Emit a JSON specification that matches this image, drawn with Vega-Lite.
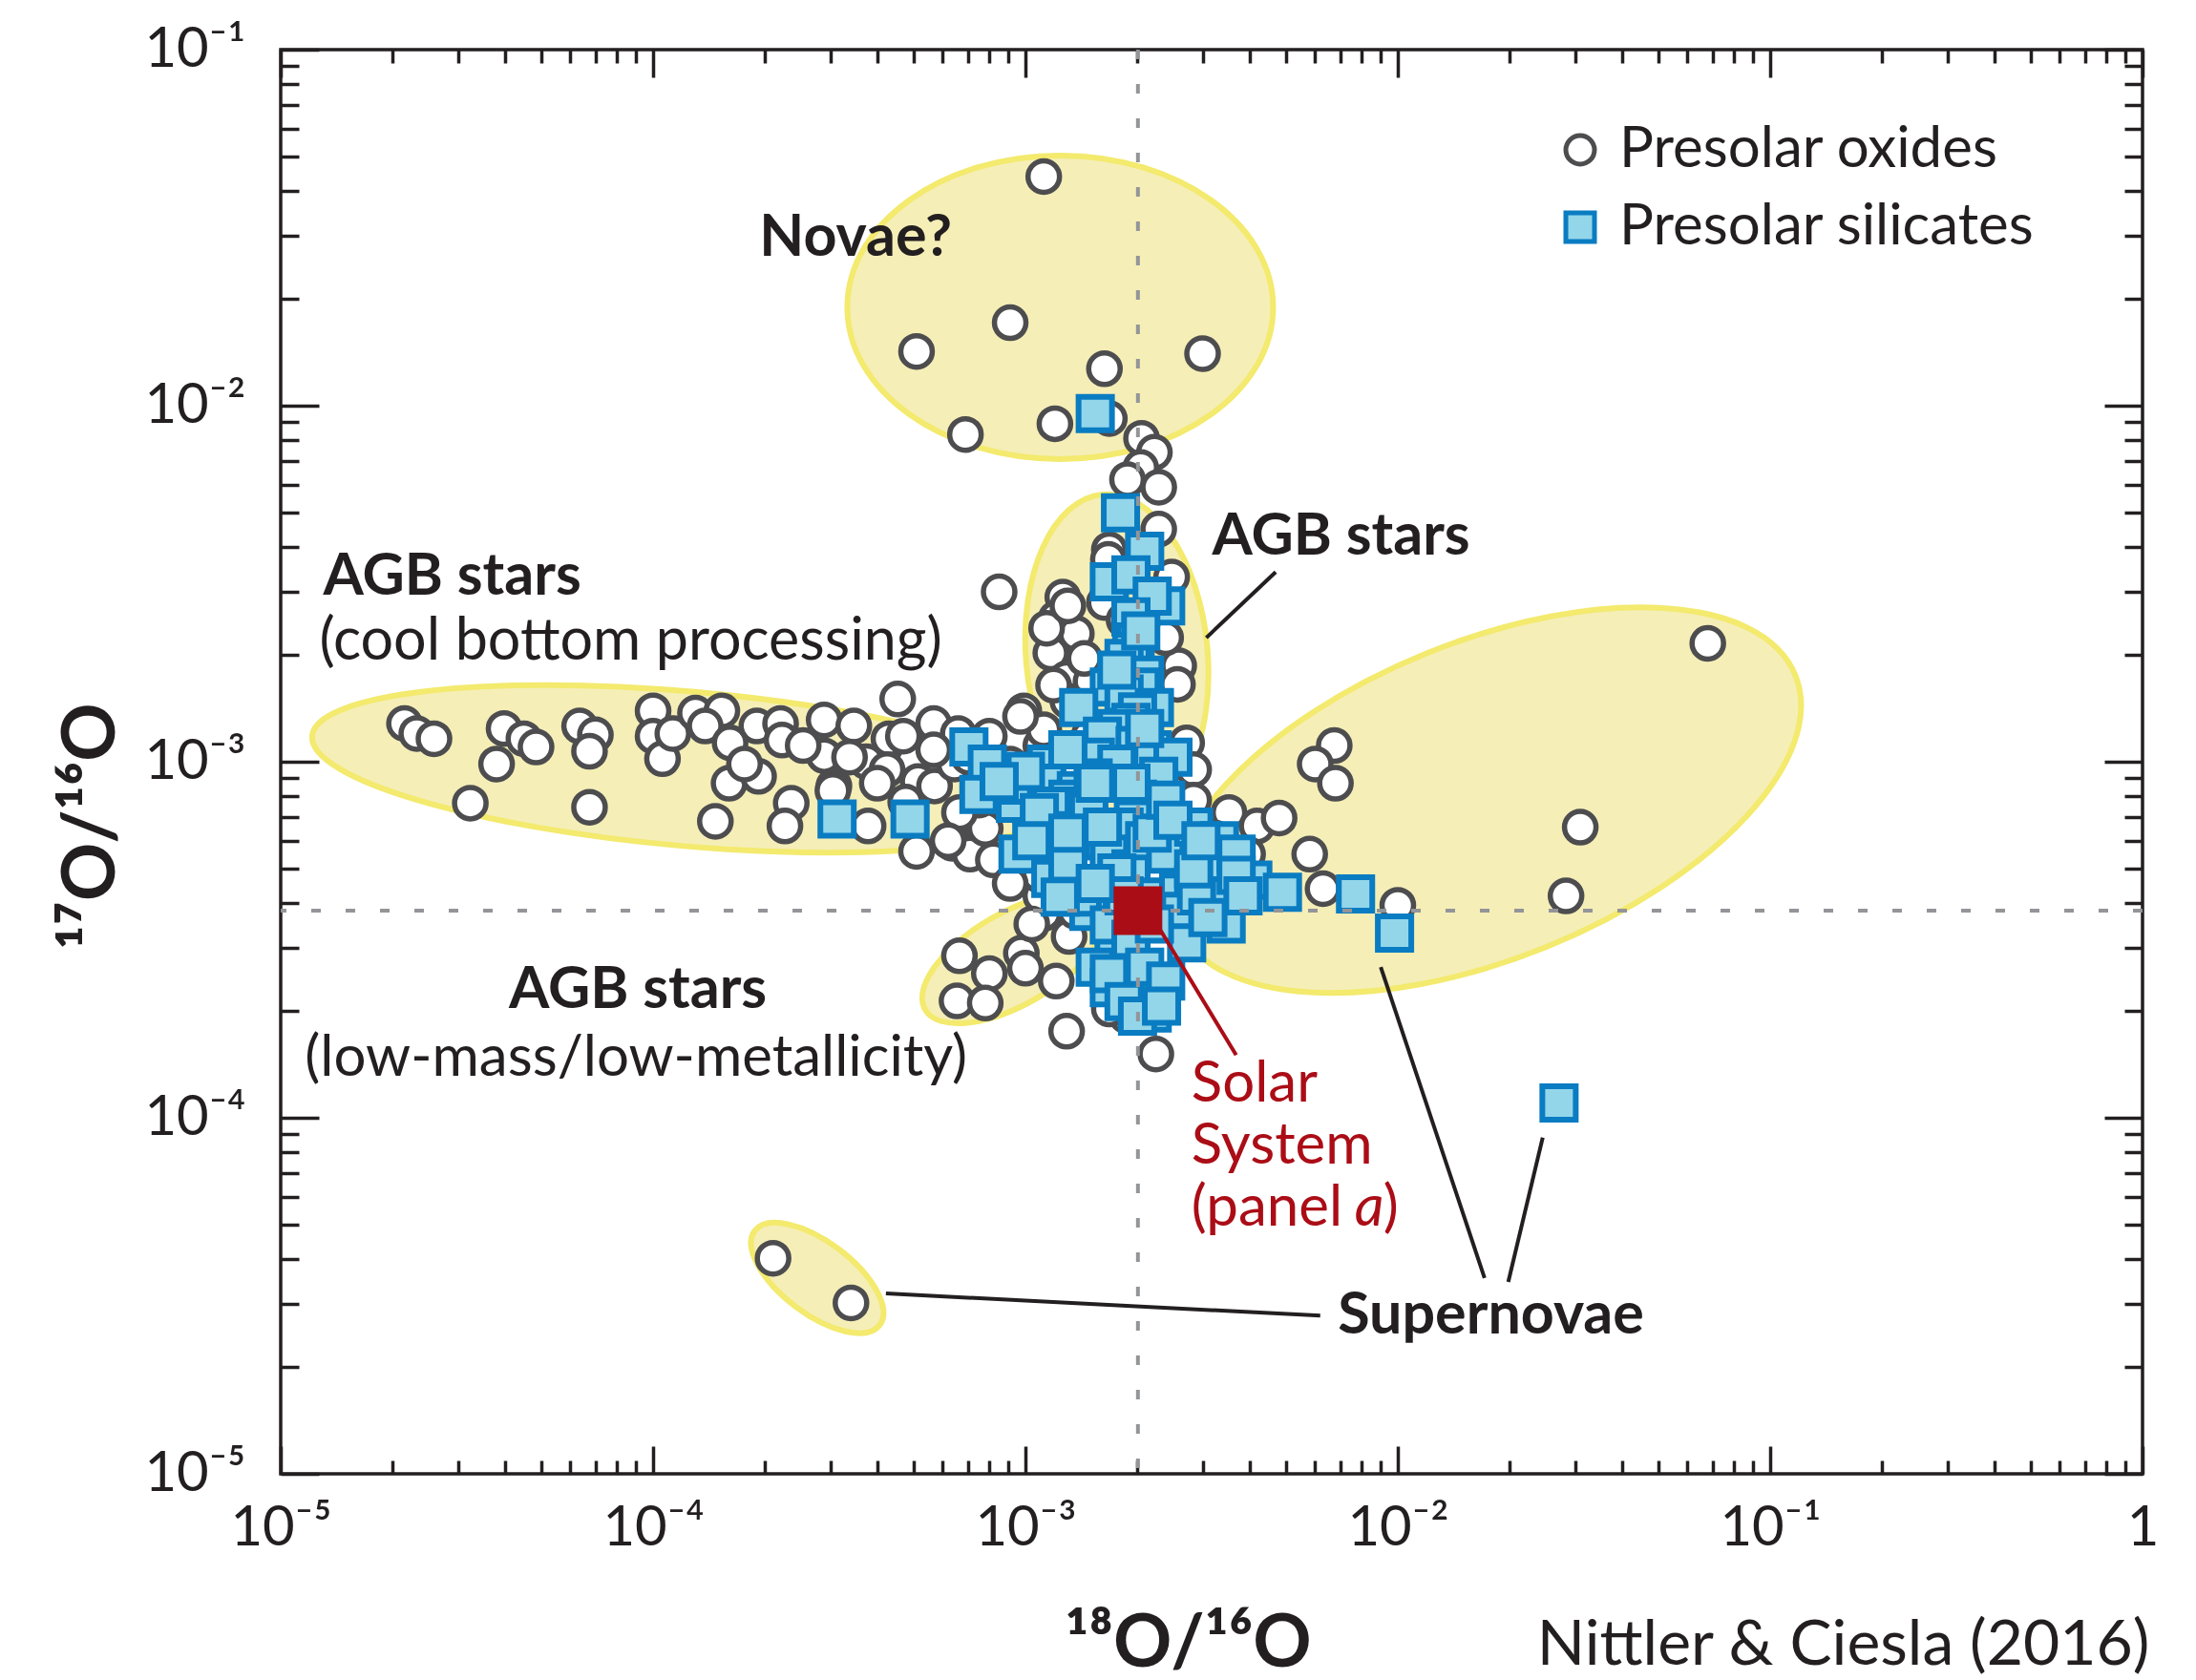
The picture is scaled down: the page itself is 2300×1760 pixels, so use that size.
{
"$schema": "https://vega.github.io/schema/vega-lite/v6.json",
"width": 1950, "height": 1492,
"autosize": {"type": "none"},
"padding": {"left": 294, "top": 52, "right": 56, "bottom": 216},
"background": "white",
"config": {
  "view": {"stroke": "#231f20", "strokeWidth": 3.5},
  "font": "Lato",
  "legend": {"labelFont": "Lato", "labelFontSize": 60, "labelColor": "#231f20", "symbolSize": 900, "symbolStrokeWidth": 5, "labelOffset": 11, "rowPadding": 21, "padding": 0, "labelLimit": 800, "symbolOpacity": 1}
},
"datasets": {
  "points": [
    {"type":"Presolar oxides","r18":1.12e-3,"r17":4.4e-2},
    {"type":"Presolar oxides","r18":9.1e-4,"r17":1.71e-2},
    {"type":"Presolar oxides","r18":5.1e-4,"r17":1.42e-2},
    {"type":"Presolar oxides","r18":1.63e-3,"r17":1.27e-2},
    {"type":"Presolar oxides","r18":2.99e-3,"r17":1.40e-2},
    {"type":"Presolar oxides","r18":6.9e-4,"r17":8.3e-3},
    {"type":"Presolar oxides","r18":1.2e-3,"r17":8.9e-3},
    {"type":"Presolar oxides","r18":1.68e-3,"r17":9.2e-3},
    {"type":"Presolar oxides","r18":2.05e-3,"r17":8.1e-3},
    {"type":"Presolar oxides","r18":2.22e-3,"r17":7.4e-3},
    {"type":"Presolar oxides","r18":2.04e-3,"r17":6.7e-3},
    {"type":"Presolar oxides","r18":1.88e-3,"r17":6.2e-3},
    {"type":"Presolar oxides","r18":2.28e-3,"r17":5.9e-3},
    {"type":"Presolar oxides","r18":2.28e-3,"r17":4.5e-3},
    {"type":"Presolar oxides","r18":1.68e-3,"r17":3.94e-3},
    {"type":"Presolar oxides","r18":1.67e-3,"r17":3.7e-3},
    {"type":"Presolar oxides","r18":8.5e-4,"r17":3.0e-3},
    {"type":"Presolar oxides","r18":1.26e-3,"r17":2.9e-3},
    {"type":"Presolar oxides","r18":1.21e-3,"r17":2.53e-3},
    {"type":"Presolar oxides","r18":1.37e-3,"r17":2.29e-3},
    {"type":"Presolar oxides","r18":1.17e-3,"r17":2.02e-3},
    {"type":"Presolar oxides","r18":1.29e-3,"r17":1.71e-3},
    {"type":"Presolar oxides","r18":1.5e-3,"r17":1.68e-3},
    {"type":"Presolar oxides","r18":9.9e-4,"r17":1.39e-3},
    {"type":"Presolar oxides","r18":1.1e-3,"r17":1.11e-3},
    {"type":"Presolar oxides","r18":2.58e-3,"r17":1.86e-3},
    {"type":"Presolar oxides","r18":2.38e-3,"r17":2.23e-3},
    {"type":"Presolar oxides","r18":2.47e-3,"r17":3.3e-3},
    {"type":"Presolar oxides","r18":1.63e-3,"r17":2.8e-3},
    {"type":"Presolar oxides","r18":1.14e-3,"r17":2.37e-3},
    {"type":"Presolar oxides","r18":1.3e-3,"r17":2.74e-3},
    {"type":"Presolar oxides","r18":1.84e-3,"r17":2.5e-3},
    {"type":"Presolar oxides","r18":2.56e-3,"r17":1.65e-3},
    {"type":"Presolar oxides","r18":1.3e-3,"r17":1.48e-3},
    {"type":"Presolar oxides","r18":1.12e-3,"r17":1.23e-3},
    {"type":"Presolar oxides","r18":1.44e-3,"r17":1.95e-3},
    {"type":"Presolar oxides","r18":2.15e-5,"r17":1.28e-3},
    {"type":"Presolar oxides","r18":2.32e-5,"r17":1.2e-3},
    {"type":"Presolar oxides","r18":2.58e-5,"r17":1.16e-3},
    {"type":"Presolar oxides","r18":3.98e-5,"r17":1.24e-3},
    {"type":"Presolar oxides","r18":4.5e-5,"r17":1.16e-3},
    {"type":"Presolar oxides","r18":4.85e-5,"r17":1.1e-3},
    {"type":"Presolar oxides","r18":3.8e-5,"r17":9.85e-4},
    {"type":"Presolar oxides","r18":3.23e-5,"r17":7.65e-4},
    {"type":"Presolar oxides","r18":6.35e-5,"r17":1.26e-3},
    {"type":"Presolar oxides","r18":7.0e-5,"r17":1.19e-3},
    {"type":"Presolar oxides","r18":6.75e-5,"r17":1.07e-3},
    {"type":"Presolar oxides","r18":6.75e-5,"r17":7.45e-4},
    {"type":"Presolar oxides","r18":1.0e-4,"r17":1.39e-3},
    {"type":"Presolar oxides","r18":1.0e-4,"r17":1.18e-3},
    {"type":"Presolar oxides","r18":1.06e-4,"r17":1.02e-3},
    {"type":"Presolar oxides","r18":1.13e-4,"r17":1.2e-3},
    {"type":"Presolar oxides","r18":1.3e-4,"r17":1.37e-3},
    {"type":"Presolar oxides","r18":1.53e-4,"r17":1.39e-3},
    {"type":"Presolar oxides","r18":1.38e-4,"r17":1.26e-3},
    {"type":"Presolar oxides","r18":1.61e-4,"r17":1.13e-3},
    {"type":"Presolar oxides","r18":1.9e-4,"r17":1.26e-3},
    {"type":"Presolar oxides","r18":1.6e-4,"r17":8.7e-4},
    {"type":"Presolar oxides","r18":1.92e-4,"r17":9.1e-4},
    {"type":"Presolar oxides","r18":1.47e-4,"r17":6.8e-4},
    {"type":"Presolar oxides","r18":2.2e-4,"r17":1.28e-3},
    {"type":"Presolar oxides","r18":2.35e-4,"r17":7.65e-4},
    {"type":"Presolar oxides","r18":2.26e-4,"r17":6.6e-4},
    {"type":"Presolar oxides","r18":2.88e-4,"r17":1.31e-3},
    {"type":"Presolar oxides","r18":3.46e-4,"r17":1.26e-3},
    {"type":"Presolar oxides","r18":2.88e-4,"r17":1.04e-3},
    {"type":"Presolar oxides","r18":3.74e-4,"r17":1.0e-3},
    {"type":"Presolar oxides","r18":4.54e-4,"r17":1.5e-3},
    {"type":"Presolar oxides","r18":4.3e-4,"r17":1.16e-3},
    {"type":"Presolar oxides","r18":4.98e-4,"r17":1.0e-3},
    {"type":"Presolar oxides","r18":5.67e-4,"r17":1.28e-3},
    {"type":"Presolar oxides","r18":3.06e-4,"r17":8.55e-4},
    {"type":"Presolar oxides","r18":3.78e-4,"r17":6.6e-4},
    {"type":"Presolar oxides","r18":5.1e-4,"r17":5.6e-4},
    {"type":"Presolar oxides","r18":6.35e-4,"r17":5.9e-4},
    {"type":"Presolar oxides","r18":7.55e-4,"r17":6.6e-4},
    {"type":"Presolar oxides","r18":9.7e-4,"r17":1.34e-3},
    {"type":"Presolar oxides","r18":2.22e-4,"r17":1.15e-3},
    {"type":"Presolar oxides","r18":3.04e-4,"r17":8.3e-4},
    {"type":"Presolar oxides","r18":4.7e-4,"r17":1.18e-3},
    {"type":"Presolar oxides","r18":4.25e-4,"r17":9.5e-4},
    {"type":"Presolar oxides","r18":5.15e-4,"r17":8.8e-4},
    {"type":"Presolar oxides","r18":5.7e-4,"r17":8.55e-4},
    {"type":"Presolar oxides","r18":6.6e-4,"r17":1.2e-3},
    {"type":"Presolar oxides","r18":6.45e-4,"r17":9.85e-4},
    {"type":"Presolar oxides","r18":7.1e-4,"r17":5.5e-4},
    {"type":"Presolar oxides","r18":7.8e-4,"r17":6.5e-4},
    {"type":"Presolar oxides","r18":8.2e-4,"r17":5.3e-4},
    {"type":"Presolar oxides","r18":1.19e-3,"r17":1.64e-3},
    {"type":"Presolar oxides","r18":8.75e-4,"r17":8.7e-4},
    {"type":"Presolar oxides","r18":1.0e-3,"r17":7.3e-4},
    {"type":"Presolar oxides","r18":9.1e-4,"r17":9.85e-4},
    {"type":"Presolar oxides","r18":7.5e-4,"r17":7.8e-4},
    {"type":"Presolar oxides","r18":6.65e-4,"r17":7.2e-4},
    {"type":"Presolar oxides","r18":6.65e-4,"r17":2.85e-4},
    {"type":"Presolar oxides","r18":8.0e-4,"r17":2.54e-4},
    {"type":"Presolar oxides","r18":6.55e-4,"r17":2.13e-4},
    {"type":"Presolar oxides","r18":7.8e-4,"r17":2.1e-4},
    {"type":"Presolar oxides","r18":9.75e-4,"r17":2.9e-4},
    {"type":"Presolar oxides","r18":1.0e-3,"r17":2.63e-4},
    {"type":"Presolar oxides","r18":1.21e-3,"r17":2.42e-4},
    {"type":"Presolar oxides","r18":1.31e-3,"r17":3.23e-4},
    {"type":"Presolar oxides","r18":1.12e-3,"r17":3.75e-4},
    {"type":"Presolar oxides","r18":1.1e-3,"r17":4.2e-4},
    {"type":"Presolar oxides","r18":1.29e-3,"r17":1.75e-4},
    {"type":"Presolar oxides","r18":2.24e-3,"r17":1.51e-4},
    {"type":"Presolar oxides","r18":1.87e-3,"r17":1.93e-4},
    {"type":"Presolar oxides","r18":6.2e-4,"r17":6.0e-4},
    {"type":"Presolar oxides","r18":1.04e-3,"r17":3.5e-4},
    {"type":"Presolar oxides","r18":1.36e-3,"r17":3.8e-4},
    {"type":"Presolar oxides","r18":1.09e-3,"r17":4.8e-4},
    {"type":"Presolar oxides","r18":9.1e-4,"r17":4.55e-4},
    {"type":"Presolar oxides","r18":1.19e-3,"r17":5.45e-4},
    {"type":"Presolar oxides","r18":1.68e-3,"r17":2.02e-4},
    {"type":"Presolar oxides","r18":2.79e-3,"r17":6.8e-4},
    {"type":"Presolar oxides","r18":3.52e-3,"r17":7.2e-4},
    {"type":"Presolar oxides","r18":4.19e-3,"r17":6.6e-4},
    {"type":"Presolar oxides","r18":4.8e-3,"r17":6.95e-4},
    {"type":"Presolar oxides","r18":3.95e-3,"r17":5.5e-4},
    {"type":"Presolar oxides","r18":5.8e-3,"r17":5.5e-4},
    {"type":"Presolar oxides","r18":6.3e-3,"r17":4.4e-4},
    {"type":"Presolar oxides","r18":1.0e-2,"r17":3.95e-4},
    {"type":"Presolar oxides","r18":6.75e-3,"r17":1.11e-3},
    {"type":"Presolar oxides","r18":6.0e-3,"r17":9.85e-4},
    {"type":"Presolar oxides","r18":6.8e-3,"r17":8.7e-4},
    {"type":"Presolar oxides","r18":3.09e-2,"r17":6.55e-4},
    {"type":"Presolar oxides","r18":2.83e-2,"r17":4.2e-4},
    {"type":"Presolar oxides","r18":6.8e-2,"r17":2.15e-3},
    {"type":"Presolar oxides","r18":3.23e-3,"r17":6.1e-4},
    {"type":"Presolar oxides","r18":3.09e-3,"r17":5.75e-4},
    {"type":"Presolar oxides","r18":2.1e-4,"r17":4.03e-5},
    {"type":"Presolar oxides","r18":3.4e-4,"r17":3.02e-5},
    {"type":"Presolar oxides","r18":1.68e-3,"r17":8.7e-4},
    {"type":"Presolar oxides","r18":2.71e-3,"r17":1.13e-3},
    {"type":"Presolar oxides","r18":2.83e-3,"r17":9.5e-4},
    {"type":"Presolar oxides","r18":2.19e-3,"r17":1.48e-3},
    {"type":"Presolar oxides","r18":1.48e-3,"r17":1.18e-3},
    {"type":"Presolar oxides","r18":2.83e-3,"r17":7.8e-4},
    {"type":"Presolar oxides","r18":1.3e-3,"r17":9.85e-4},
    {"type":"Presolar oxides","r18":2.53e-4,"r17":1.11e-3},
    {"type":"Presolar oxides","r18":3.37e-4,"r17":1.03e-3},
    {"type":"Presolar oxides","r18":4.0e-4,"r17":8.7e-4},
    {"type":"Presolar oxides","r18":4.77e-4,"r17":7.7e-4},
    {"type":"Presolar oxides","r18":5.67e-4,"r17":1.08e-3},
    {"type":"Presolar oxides","r18":7.05e-4,"r17":1.03e-3},
    {"type":"Presolar oxides","r18":8.0e-4,"r17":1.18e-3},
    {"type":"Presolar oxides","r18":8.4e-4,"r17":9.0e-4},
    {"type":"Presolar oxides","r18":1.76e-4,"r17":9.85e-4},
    {"type":"Presolar silicates","r18":1.54e-3,"r17":9.5e-3},
    {"type":"Presolar silicates","r18":1.8e-3,"r17":5.0e-3},
    {"type":"Presolar silicates","r18":2.09e-3,"r17":3.9e-3},
    {"type":"Presolar silicates","r18":1.68e-3,"r17":3.2e-3},
    {"type":"Presolar silicates","r18":2.38e-3,"r17":2.74e-3},
    {"type":"Presolar silicates","r18":1.92e-3,"r17":3.35e-3},
    {"type":"Presolar silicates","r18":2.19e-3,"r17":2.92e-3},
    {"type":"Presolar silicates","r18":1.92e-3,"r17":2.55e-3},
    {"type":"Presolar silicates","r18":1.97e-3,"r17":2.17e-3},
    {"type":"Presolar silicates","r18":1.93e-3,"r17":2.04e-3},
    {"type":"Presolar silicates","r18":1.84e-3,"r17":1.95e-3},
    {"type":"Presolar silicates","r18":2.09e-3,"r17":1.75e-3},
    {"type":"Presolar silicates","r18":2.04e-3,"r17":1.62e-3},
    {"type":"Presolar silicates","r18":1.68e-3,"r17":1.62e-3},
    {"type":"Presolar silicates","r18":1.84e-3,"r17":1.55e-3},
    {"type":"Presolar silicates","r18":1.39e-3,"r17":1.42e-3},
    {"type":"Presolar silicates","r18":2.22e-3,"r17":1.42e-3},
    {"type":"Presolar silicates","r18":2.0e-3,"r17":1.38e-3},
    {"type":"Presolar silicates","r18":1.92e-3,"r17":1.29e-3},
    {"type":"Presolar silicates","r18":1.76e-3,"r17":1.24e-3},
    {"type":"Presolar silicates","r18":1.61e-3,"r17":1.18e-3},
    {"type":"Presolar silicates","r18":1.97e-3,"r17":1.11e-3},
    {"type":"Presolar silicates","r18":2.19e-3,"r17":1.08e-3},
    {"type":"Presolar silicates","r18":2.49e-3,"r17":1.03e-3},
    {"type":"Presolar silicates","r18":1.54e-3,"r17":1.03e-3},
    {"type":"Presolar silicates","r18":2.28e-3,"r17":9.1e-4},
    {"type":"Presolar silicates","r18":7.05e-4,"r17":1.1e-3},
    {"type":"Presolar silicates","r18":7.9e-4,"r17":9.85e-4},
    {"type":"Presolar silicates","r18":7.5e-4,"r17":8.1e-4},
    {"type":"Presolar silicates","r18":9.4e-4,"r17":7.65e-4},
    {"type":"Presolar silicates","r18":9.55e-4,"r17":5.5e-4},
    {"type":"Presolar silicates","r18":9.55e-4,"r17":8.6e-4},
    {"type":"Presolar silicates","r18":1.14e-3,"r17":9.85e-4},
    {"type":"Presolar silicates","r18":1.14e-3,"r17":8.7e-4},
    {"type":"Presolar silicates","r18":1.37e-3,"r17":8.3e-4},
    {"type":"Presolar silicates","r18":1.3e-3,"r17":7.85e-4},
    {"type":"Presolar silicates","r18":1.48e-3,"r17":7.5e-4},
    {"type":"Presolar silicates","r18":1.17e-3,"r17":7.5e-4},
    {"type":"Presolar silicates","r18":1.76e-3,"r17":9.85e-4},
    {"type":"Presolar silicates","r18":1.52e-3,"r17":9.0e-4},
    {"type":"Presolar silicates","r18":2.0e-3,"r17":7.85e-4},
    {"type":"Presolar silicates","r18":1.17e-3,"r17":6.4e-4},
    {"type":"Presolar silicates","r18":1.44e-3,"r17":6.0e-4},
    {"type":"Presolar silicates","r18":1.32e-3,"r17":6.0e-4},
    {"type":"Presolar silicates","r18":1.17e-3,"r17":4.7e-4},
    {"type":"Presolar silicates","r18":1.48e-3,"r17":3.8e-4},
    {"type":"Presolar silicates","r18":1.73e-3,"r17":3.05e-4},
    {"type":"Presolar silicates","r18":1.95e-3,"r17":6.9e-4},
    {"type":"Presolar silicates","r18":1.84e-3,"r17":6.55e-4},
    {"type":"Presolar silicates","r18":1.68e-3,"r17":5.5e-4},
    {"type":"Presolar silicates","r18":1.92e-3,"r17":5.0e-4},
    {"type":"Presolar silicates","r18":2.09e-3,"r17":6.0e-4},
    {"type":"Presolar silicates","r18":1.76e-3,"r17":4.87e-4},
    {"type":"Presolar silicates","r18":1.42e-3,"r17":4.17e-4},
    {"type":"Presolar silicates","r18":1.24e-3,"r17":4.17e-4},
    {"type":"Presolar silicates","r18":2.15e-3,"r17":4.17e-4},
    {"type":"Presolar silicates","r18":2.04e-3,"r17":3.64e-4},
    {"type":"Presolar silicates","r18":1.68e-3,"r17":3.48e-4},
    {"type":"Presolar silicates","r18":1.92e-3,"r17":3.17e-4},
    {"type":"Presolar silicates","r18":1.54e-3,"r17":2.65e-4},
    {"type":"Presolar silicates","r18":1.68e-3,"r17":2.32e-4},
    {"type":"Presolar silicates","r18":1.95e-3,"r17":2.34e-4},
    {"type":"Presolar silicates","r18":2.19e-3,"r17":1.97e-4},
    {"type":"Presolar silicates","r18":2.58e-3,"r17":5.9e-4},
    {"type":"Presolar silicates","r18":2.38e-3,"r17":5.5e-4},
    {"type":"Presolar silicates","r18":2.83e-3,"r17":6.55e-4},
    {"type":"Presolar silicates","r18":2.58e-3,"r17":4.3e-4},
    {"type":"Presolar silicates","r18":2.83e-3,"r17":4.5e-4},
    {"type":"Presolar silicates","r18":2.6e-3,"r17":3.8e-4},
    {"type":"Presolar silicates","r18":2.71e-3,"r17":3.1e-4},
    {"type":"Presolar silicates","r18":3.32e-3,"r17":6.0e-4},
    {"type":"Presolar silicates","r18":3.23e-3,"r17":5.0e-4},
    {"type":"Presolar silicates","r18":3.68e-3,"r17":5.5e-4},
    {"type":"Presolar silicates","r18":4.08e-3,"r17":4.65e-4},
    {"type":"Presolar silicates","r18":3.37e-3,"r17":4.2e-4},
    {"type":"Presolar silicates","r18":2.88e-3,"r17":4.2e-4},
    {"type":"Presolar silicates","r18":3.46e-3,"r17":3.5e-4},
    {"type":"Presolar silicates","r18":4.9e-3,"r17":4.3e-4},
    {"type":"Presolar silicates","r18":7.7e-3,"r17":4.25e-4},
    {"type":"Presolar silicates","r18":9.8e-3,"r17":3.3e-4},
    {"type":"Presolar silicates","r18":2.71e-2,"r17":1.1e-4},
    {"type":"Presolar silicates","r18":3.12e-4,"r17":6.9e-4},
    {"type":"Presolar silicates","r18":4.9e-4,"r17":6.9e-4},
    {"type":"Presolar silicates","r18":3.68e-3,"r17":4.8e-4},
    {"type":"Presolar silicates","r18":3.84e-3,"r17":4.2e-4},
    {"type":"Presolar silicates","r18":1.3e-3,"r17":1.08e-3},
    {"type":"Presolar silicates","r18":1.0e-3,"r17":9.4e-4},
    {"type":"Presolar silicates","r18":1.09e-3,"r17":7.2e-4},
    {"type":"Presolar silicates","r18":1.3e-3,"r17":5.2e-4},
    {"type":"Presolar silicates","r18":1.61e-3,"r17":6.55e-4},
    {"type":"Presolar silicates","r18":2.19e-3,"r17":6.3e-4},
    {"type":"Presolar silicates","r18":2.38e-3,"r17":7.8e-4},
    {"type":"Presolar silicates","r18":2.83e-3,"r17":5.0e-4},
    {"type":"Presolar silicates","r18":3.09e-3,"r17":3.65e-4},
    {"type":"Presolar silicates","r18":1.68e-3,"r17":2.54e-4},
    {"type":"Presolar silicates","r18":2.09e-3,"r17":2.65e-4},
    {"type":"Presolar silicates","r18":1.84e-3,"r17":2.12e-4},
    {"type":"Presolar silicates","r18":2.38e-3,"r17":2.42e-4},
    {"type":"Presolar silicates","r18":2.22e-3,"r17":3.5e-4},
    {"type":"Presolar silicates","r18":1.54e-3,"r17":8.7e-4},
    {"type":"Presolar silicates","r18":1.92e-3,"r17":8.7e-4},
    {"type":"Presolar silicates","r18":2.04e-3,"r17":2.33e-3},
    {"type":"Presolar silicates","r18":1.76e-3,"r17":1.81e-3},
    {"type":"Presolar silicates","r18":2.09e-3,"r17":1.24e-3},
    {"type":"Presolar silicates","r18":1.3e-3,"r17":6.3e-4},
    {"type":"Presolar silicates","r18":2.49e-3,"r17":6.85e-4},
    {"type":"Presolar silicates","r18":2.96e-3,"r17":6.0e-4},
    {"type":"Presolar silicates","r18":8.5e-4,"r17":8.8e-4},
    {"type":"Presolar silicates","r18":1.04e-3,"r17":6.0e-4},
    {"type":"Presolar silicates","r18":1.84e-3,"r17":4.2e-4},
    {"type":"Presolar silicates","r18":1.54e-3,"r17":4.55e-4},
    {"type":"Presolar silicates","r18":2.0e-3,"r17":1.93e-4},
    {"type":"Presolar silicates","r18":2.32e-3,"r17":2.06e-4}
  ]
},
"resolve": {"axis": {"x": "independent", "y": "independent"}},
"layer": [
  {"data": {"values": [{"r18": 1.24e-4, "r17": 9.55e-4}]},
   "mark": {"type": "point", "shape": "M-1,0A1,0.205,0,1,0,1,0A1,0.205,0,1,0,-1,0Z", "size": 624100, "angle": 5, "filled": true, "fill": "#f5eeb7", "stroke": "#f3ea6e", "strokeWidth": 6, "opacity": 1},
   "encoding": {"x": {"field": "r18", "type": "quantitative", "scale": {"type": "log", "domain": [0.00001, 1], "nice": false}, "axis": null},
                "y": {"field": "r17", "type": "quantitative", "scale": {"type": "log", "domain": [0.00001, 0.1], "nice": false}, "axis": null}}},
  {"data": {"values": [{"r18": 9.3e-4, "r17": 2.8e-4}]},
   "mark": {"type": "point", "shape": "M-1,0A1,0.45,0,1,0,1,0A1,0.45,0,1,0,-1,0Z", "size": 45796, "angle": -30, "filled": true, "fill": "#f5eeb7", "stroke": "#f3ea6e", "strokeWidth": 6, "opacity": 1},
   "encoding": {"x": {"field": "r18", "type": "quantitative", "axis": null}, "y": {"field": "r17", "type": "quantitative", "axis": null}}},
  {"data": {"values": [{"r18": 1.76e-3, "r17": 1.98e-3}]},
   "mark": {"type": "point", "shape": "M-1,0A1,0.56,0,1,0,1,0A1,0.56,0,1,0,-1,0Z", "size": 115600, "angle": 85, "filled": true, "fill": "#f5eeb7", "stroke": "#f3ea6e", "strokeWidth": 6, "opacity": 1},
   "encoding": {"x": {"field": "r18", "type": "quantitative", "axis": null}, "y": {"field": "r17", "type": "quantitative", "axis": null}}},
  {"data": {"values": [{"r18": 1.73e-2, "r17": 7.8e-4}]},
   "mark": {"type": "point", "shape": "M-1,0A1,0.476,0,1,0,1,0A1,0.476,0,1,0,-1,0Z", "size": 487204, "angle": -22, "filled": true, "fill": "#f5eeb7", "stroke": "#f3ea6e", "strokeWidth": 6, "opacity": 1},
   "encoding": {"x": {"field": "r18", "type": "quantitative", "axis": null}, "y": {"field": "r17", "type": "quantitative", "axis": null}}},
  {"data": {"values": [{"r18": 1.24e-3, "r17": 1.89e-2}]},
   "mark": {"type": "point", "shape": "M-1,0A1,0.713,0,1,0,1,0A1,0.713,0,1,0,-1,0Z", "size": 198916, "angle": 0, "filled": true, "fill": "#f5eeb7", "stroke": "#f3ea6e", "strokeWidth": 6, "opacity": 1},
   "encoding": {"x": {"field": "r18", "type": "quantitative", "axis": null}, "y": {"field": "r17", "type": "quantitative", "axis": null}}},
  {"data": {"values": [{"r18": 2.76e-4, "r17": 3.55e-5}]},
   "mark": {"type": "point", "shape": "M-1,0A1,0.46,0,1,0,1,0A1,0.46,0,1,0,-1,0Z", "size": 26896, "angle": 37, "filled": true, "fill": "#f5eeb7", "stroke": "#f3ea6e", "strokeWidth": 6, "opacity": 1},
   "encoding": {"x": {"field": "r18", "type": "quantitative", "axis": null}, "y": {"field": "r17", "type": "quantitative", "axis": null}}},
  {"data": {"name": "points"},
   "transform": [{"filter": "datum.type == 'Presolar oxides'"}],
   "mark": {"type": "point", "filled": true, "size": 1089, "strokeWidth": 5.5, "opacity": 1},
   "encoding": {
     "x": {"field": "r18", "type": "quantitative", "scale": {"type": "log", "domain": [0.00001, 1], "nice": false},
       "axis": {"orient": "bottom", "values": [0.00001,0.00002,0.00003,0.00004,0.00005,0.00006,0.00007,0.00008,0.00009,0.0001,0.0002,0.0003,0.0004,0.0005,0.0006,0.0007,0.0008,0.0009,0.001,0.002,0.003,0.004,0.005,0.006,0.007,0.008,0.009,0.01,0.02,0.03,0.04,0.05,0.06,0.07,0.08,0.09,0.1,0.2,0.3,0.4,0.5,0.6,0.7,0.8,0.9,1],
         "labelExpr": "abs(log(datum.value)/LN10 - round(log(datum.value)/LN10)) > 0.001 ? '' : (datum.value > 0.5 ? '1' : '10⁻' + ['0','¹','²','³','⁴','⁵'][-round(log(datum.value)/LN10)])",
         "labelOverlap": false, "labelFlush": false, "domain": false, "grid": false,
         "tickColor": "#231f20", "tickWidth": 3.5,
         "tickSize": {"condition": {"test": "abs(log(datum.value)/LN10 - round(log(datum.value)/LN10)) < 0.001", "value": -29}, "value": -14},
         "labelPadding": 57, "labelFont": "Lato", "labelFontSize": 58, "labelColor": "#231f20",
         "title": "¹⁸O/¹⁶O", "titleFont": "Lato", "titleFontWeight": "bold", "titleFontSize": 76, "titleColor": "#231f20", "titlePadding": 40, "titleX": 950}},
     "y": {"field": "r17", "type": "quantitative", "scale": {"type": "log", "domain": [0.00001, 0.1], "nice": false},
       "axis": {"orient": "left", "values": [0.00001,0.00002,0.00003,0.00004,0.00005,0.00006,0.00007,0.00008,0.00009,0.0001,0.0002,0.0003,0.0004,0.0005,0.0006,0.0007,0.0008,0.0009,0.001,0.002,0.003,0.004,0.005,0.006,0.007,0.008,0.009,0.01,0.02,0.03,0.04,0.05,0.06,0.07,0.08,0.09,0.1],
         "labelExpr": "abs(log(datum.value)/LN10 - round(log(datum.value)/LN10)) > 0.001 ? '' : '10⁻' + ['0','¹','²','³','⁴','⁵'][-round(log(datum.value)/LN10)]",
         "labelOverlap": false, "labelFlush": false, "domain": false, "grid": false,
         "tickColor": "#231f20", "tickWidth": 3.5,
         "tickSize": {"condition": {"test": "abs(log(datum.value)/LN10 - round(log(datum.value)/LN10)) < 0.001", "value": -40}, "value": -19},
         "labelPadding": 77, "labelFont": "Lato", "labelFontSize": 58, "labelColor": "#231f20",
         "title": "¹⁷O/¹⁶O", "titleFont": "Lato", "titleFontWeight": "bold", "titleFontSize": 76, "titleColor": "#231f20", "titlePadding": 15, "titleY": 813}},
     "shape": {"field": "type", "type": "nominal", "scale": {"domain": ["Presolar oxides", "Presolar silicates"], "range": ["circle", "square"]}, "legend": {"title": null, "orient": "none", "legendX": 1331, "legendY": 75}},
     "fill": {"field": "type", "type": "nominal", "scale": {"domain": ["Presolar oxides", "Presolar silicates"], "range": ["#ffffff", "#93d6ea"]}, "legend": {"title": null, "orient": "none", "legendX": 1331, "legendY": 75}},
     "stroke": {"field": "type", "type": "nominal", "scale": {"domain": ["Presolar oxides", "Presolar silicates"], "range": ["#4d4d4f", "#0a7cc2"]}, "legend": {"title": null, "orient": "none", "legendX": 1331, "legendY": 75}}
   }},
  {"data": {"name": "points"},
   "transform": [{"filter": "datum.type == 'Presolar silicates'"}],
   "mark": {"type": "point", "filled": true, "size": 1225, "strokeWidth": 6, "opacity": 1},
   "encoding": {
     "x": {"field": "r18", "type": "quantitative", "axis": null},
     "y": {"field": "r17", "type": "quantitative", "axis": null},
     "shape": {"field": "type", "type": "nominal", "legend": {"title": null, "orient": "none", "legendX": 1331, "legendY": 75}},
     "fill": {"field": "type", "type": "nominal", "legend": {"title": null, "orient": "none", "legendX": 1331, "legendY": 75}},
     "stroke": {"field": "type", "type": "nominal", "legend": {"title": null, "orient": "none", "legendX": 1331, "legendY": 75}}
   }},
  {"data": {"values": [{"r18": 0.002005}]},
   "mark": {"type": "rule", "color": "#939598", "strokeWidth": 4, "strokeDash": [10, 26]},
   "encoding": {"x": {"field": "r18", "type": "quantitative", "axis": null}}},
  {"data": {"values": [{"r17": 0.000382}]},
   "mark": {"type": "rule", "color": "#939598", "strokeWidth": 4, "strokeDash": [10, 26]},
   "encoding": {"y": {"field": "r17", "type": "quantitative", "axis": null}}},
  {"data": {"values": [
     {"r18": 4.7e-3, "r17": 3.41e-3, "r18b": 3.06e-3, "r17b": 2.23e-3},
     {"r18": 9.0e-3, "r17": 2.65e-4, "r18b": 1.71e-2, "r17b": 3.55e-5},
     {"r18": 2.45e-2, "r17": 8.8e-5, "r18b": 1.98e-2, "r17b": 3.46e-5},
     {"r18": 4.22e-4, "r17": 3.21e-5, "r18b": 6.19e-3, "r17b": 2.78e-5}]},
   "mark": {"type": "rule", "color": "#231f20", "strokeWidth": 4},
   "encoding": {"x": {"field": "r18", "type": "quantitative", "axis": null}, "y": {"field": "r17", "type": "quantitative", "axis": null},
                "x2": {"field": "r18b"}, "y2": {"field": "r17b"}}},
  {"data": {"values": [{"r18": 2.26e-3, "r17": 3.48e-4, "r18b": 3.68e-3, "r17b": 1.5e-4}]},
   "mark": {"type": "rule", "color": "#ab0d16", "strokeWidth": 4},
   "encoding": {"x": {"field": "r18", "type": "quantitative", "axis": null}, "y": {"field": "r17", "type": "quantitative", "axis": null},
                "x2": {"field": "r18b"}, "y2": {"field": "r17b"}}},
  {"data": {"values": [{"r18": 0.002005, "r17": 0.000382}]},
   "mark": {"type": "square", "size": 2601, "color": "#ab0d16", "filled": true, "opacity": 1},
   "encoding": {
     "x": {"field": "r18", "type": "quantitative",
       "axis": {"orient": "top", "values": [0.00001,0.00002,0.00003,0.00004,0.00005,0.00006,0.00007,0.00008,0.00009,0.0001,0.0002,0.0003,0.0004,0.0005,0.0006,0.0007,0.0008,0.0009,0.001,0.002,0.003,0.004,0.005,0.006,0.007,0.008,0.009,0.01,0.02,0.03,0.04,0.05,0.06,0.07,0.08,0.09,0.1,0.2,0.3,0.4,0.5,0.6,0.7,0.8,0.9,1],
         "labels": false, "title": null, "domain": false, "grid": false, "tickColor": "#231f20", "tickWidth": 3.5,
         "tickSize": {"condition": {"test": "abs(log(datum.value)/LN10 - round(log(datum.value)/LN10)) < 0.001", "value": -29}, "value": -14}}},
     "y": {"field": "r17", "type": "quantitative",
       "axis": {"orient": "right", "values": [0.00001,0.00002,0.00003,0.00004,0.00005,0.00006,0.00007,0.00008,0.00009,0.0001,0.0002,0.0003,0.0004,0.0005,0.0006,0.0007,0.0008,0.0009,0.001,0.002,0.003,0.004,0.005,0.006,0.007,0.008,0.009,0.01,0.02,0.03,0.04,0.05,0.06,0.07,0.08,0.09,0.1],
         "labels": false, "title": null, "domain": false, "grid": false, "tickColor": "#231f20", "tickWidth": 3.5,
         "tickSize": {"condition": {"test": "abs(log(datum.value)/LN10 - round(log(datum.value)/LN10)) < 0.001", "value": -40}, "value": -19}}}
   }},
  {"data": {"values": [
     {"label": "Novae?", "r18": 1.93e-4, "r17": 2.94e-2},
     {"label": "AGB stars", "r18": 3.17e-3, "r17": 4.27e-3},
     {"label": "AGB stars", "r18": 1.3e-5, "r17": 3.3e-3},
     {"label": "Supernovae", "r18": 6.9e-3, "r17": 2.77e-5}]},
   "mark": {"type": "text", "align": "left", "baseline": "middle", "font": "Lato", "fontSize": 61, "fontWeight": "bold", "color": "#231f20"},
   "encoding": {"x": {"field": "r18", "type": "quantitative", "axis": null}, "y": {"field": "r17", "type": "quantitative", "axis": null}, "text": {"field": "label"}}},
  {"data": {"values": [{"label": "AGB stars", "r18": 9.1e-5, "r17": 2.27e-4}]},
   "mark": {"type": "text", "align": "center", "baseline": "middle", "font": "Lato", "fontSize": 61, "fontWeight": "bold", "color": "#231f20"},
   "encoding": {"x": {"field": "r18", "type": "quantitative", "axis": null}, "y": {"field": "r17", "type": "quantitative", "axis": null}, "text": {"field": "label"}}},
  {"data": {"values": [{"label": "(cool bottom processing)", "r18": 1.27e-5, "r17": 2.17e-3}]},
   "mark": {"type": "text", "align": "left", "baseline": "middle", "font": "Lato", "fontSize": 61, "color": "#231f20"},
   "encoding": {"x": {"field": "r18", "type": "quantitative", "axis": null}, "y": {"field": "r17", "type": "quantitative", "axis": null}, "text": {"field": "label"}}},
  {"data": {"values": [{"label": "(low-mass/low-metallicity)", "r18": 9.0e-5, "r17": 1.47e-4}]},
   "mark": {"type": "text", "align": "center", "baseline": "middle", "font": "Lato", "fontSize": 60, "color": "#231f20"},
   "encoding": {"x": {"field": "r18", "type": "quantitative", "axis": null}, "y": {"field": "r17", "type": "quantitative", "axis": null}, "text": {"field": "label"}}},
  {"data": {"values": [{"label": "Nittler & Ciesla (2016)", "r18": 1.045, "r17": 3.3e-6}]},
   "mark": {"type": "text", "align": "right", "baseline": "middle", "font": "Lato", "fontSize": 66, "color": "#231f20"},
   "encoding": {"x": {"field": "r18", "type": "quantitative", "axis": null}, "y": {"field": "r17", "type": "quantitative", "axis": null}, "text": {"field": "label"}}},
  {"data": {"values": [
     {"label": "Solar", "r18": 2.79e-3, "r17": 1.24e-4},
     {"label": "System", "r18": 2.79e-3, "r17": 8.3e-5},
     {"label": "(panel", "r18": 2.79e-3, "r17": 5.55e-5}]},
   "mark": {"type": "text", "align": "left", "baseline": "middle", "font": "Lato", "fontSize": 60, "color": "#ab0d16"},
   "encoding": {"x": {"field": "r18", "type": "quantitative", "axis": null}, "y": {"field": "r17", "type": "quantitative", "axis": null}, "text": {"field": "label"}}},
  {"data": {"values": [{"label": "a", "r18": 2.79e-3, "r17": 5.55e-5}]},
   "mark": {"type": "text", "align": "left", "baseline": "middle", "font": "Lato", "fontSize": 60, "fontStyle": "italic", "dx": 171, "color": "#ab0d16"},
   "encoding": {"x": {"field": "r18", "type": "quantitative", "axis": null}, "y": {"field": "r17", "type": "quantitative", "axis": null}, "text": {"field": "label"}}},
  {"data": {"values": [{"label": ")", "r18": 2.79e-3, "r17": 5.55e-5}]},
   "mark": {"type": "text", "align": "left", "baseline": "middle", "font": "Lato", "fontSize": 60, "dx": 201, "color": "#ab0d16"},
   "encoding": {"x": {"field": "r18", "type": "quantitative", "axis": null}, "y": {"field": "r17", "type": "quantitative", "axis": null}, "text": {"field": "label"}}}
]
}
